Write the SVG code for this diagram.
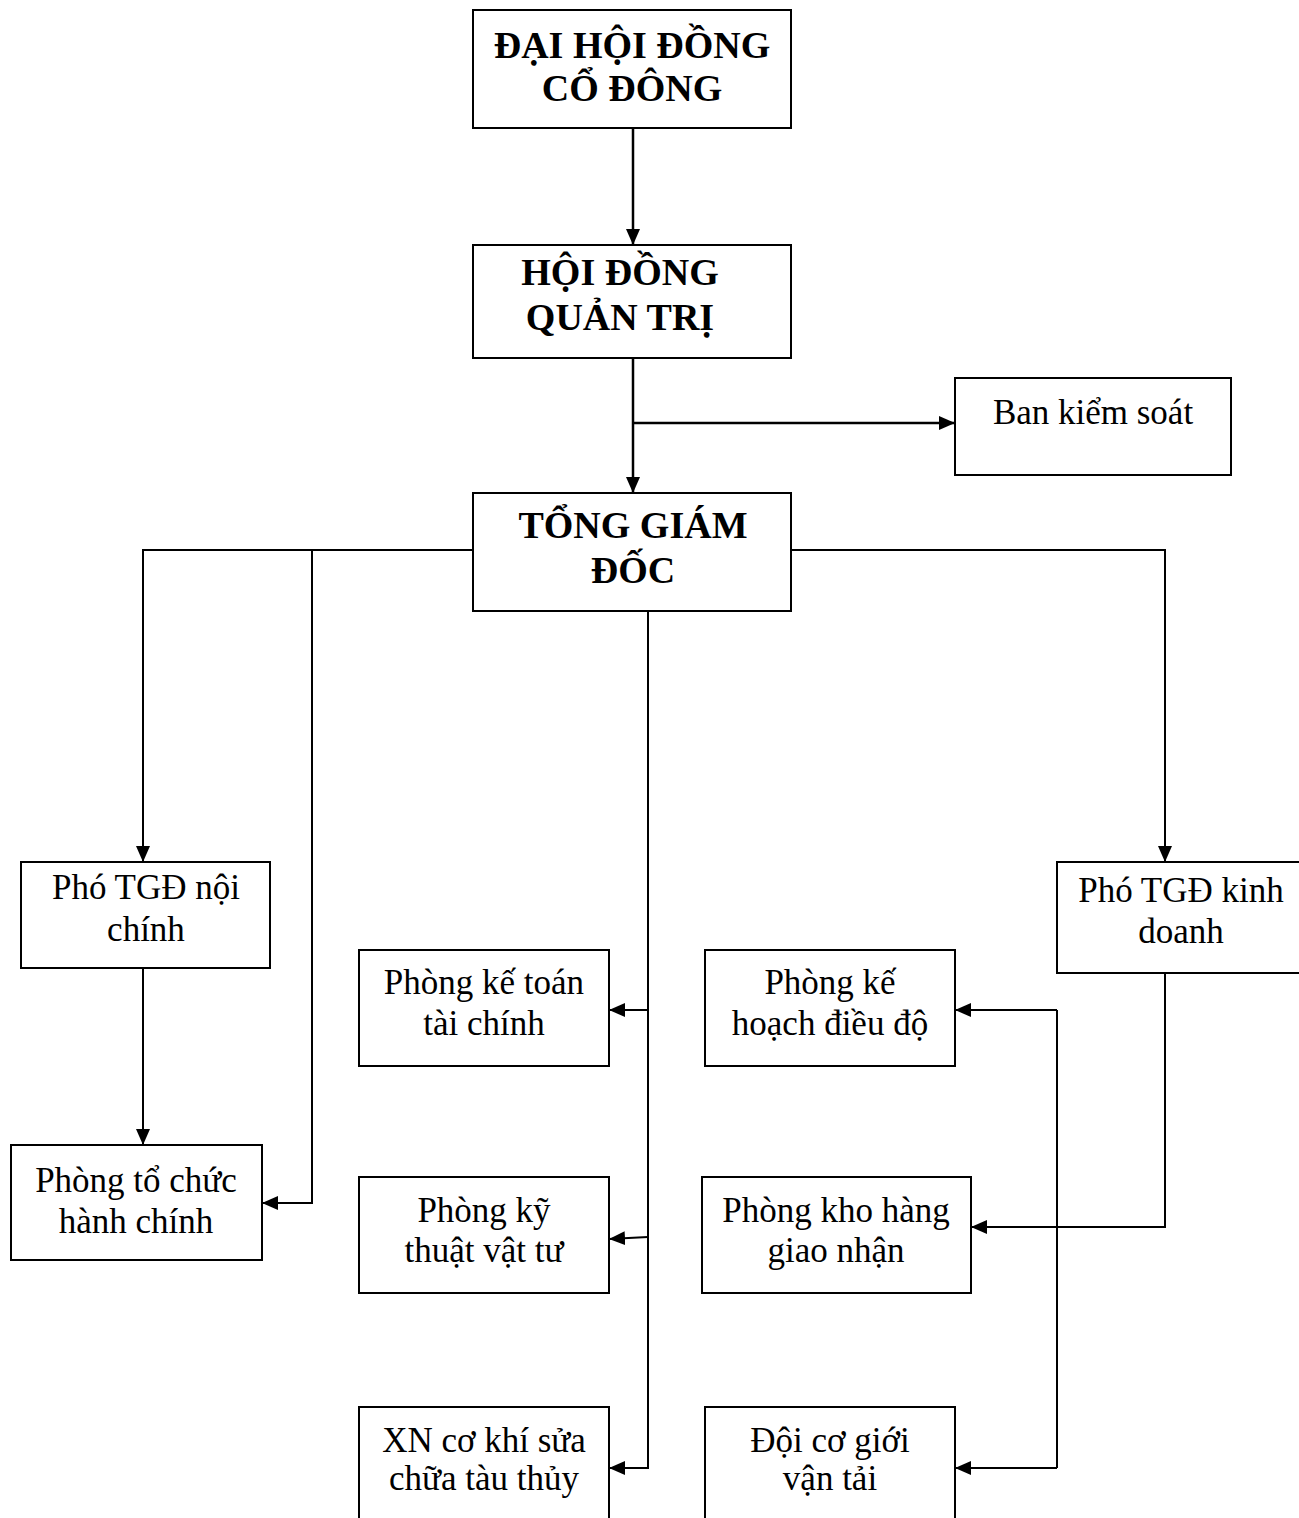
<svg xmlns="http://www.w3.org/2000/svg" width="1299" height="1518" viewBox="0 0 1299 1518">
<style>
.box{fill:#fff;stroke:#000;stroke-width:2}
.t{font-family:"Liberation Serif","Times New Roman",serif;font-size:35px;text-anchor:middle;fill:#000}
.b{font-family:"Liberation Serif","Times New Roman",serif;font-size:38px;font-weight:bold;text-anchor:middle;fill:#000}
.c{fill:none;stroke:#000;stroke-width:2.5}
.c2{fill:none;stroke:#000;stroke-width:2}
</style>
<defs>
<marker id="ah" viewBox="0 0 16 14" refX="16" refY="7" markerWidth="16" markerHeight="14" markerUnits="userSpaceOnUse" orient="auto">
<path d="M0,0 L16,7 L0,14 z" fill="#000"/>
</marker>
</defs>
<rect width="1299" height="1518" fill="#fff"/>
<g id="connectors">
<path class="c" d="M633,128 V245" marker-end="url(#ah)"/>
<path class="c" d="M633,358 V493" marker-end="url(#ah)"/>
<path class="c" d="M633,423 H955" marker-end="url(#ah)"/>
<path class="c2" d="M473,550 H143 V862" marker-end="url(#ah)"/>
<path class="c2" d="M312,550 V1203 H262" marker-end="url(#ah)"/>
<path class="c2" d="M791,550 H1165 V862" marker-end="url(#ah)"/>
<path class="c2" d="M648,611 V1468 H609" marker-end="url(#ah)"/>
<path class="c2" d="M648,1010 H609" marker-end="url(#ah)"/>
<path class="c2" d="M648,1237 L609,1239" marker-end="url(#ah)"/>
<path class="c2" d="M143,968 V1145" marker-end="url(#ah)"/>
<path class="c2" d="M1165,973 V1227 H971" marker-end="url(#ah)"/>
<path class="c2" d="M1057,1010 V1468"/>
<path class="c2" d="M1057,1010 H955" marker-end="url(#ah)"/>
<path class="c2" d="M1057,1468 H955" marker-end="url(#ah)"/>
</g>
<g id="n1"><rect class="box" x="473" y="10" width="318" height="118"/><text class="b" x="632" y="58">ĐẠI HỘI ĐỒNG</text><text class="b" x="632" y="101">CỔ ĐÔNG</text></g>
<g id="n2"><rect class="box" x="473" y="245" width="318" height="113"/><text class="b" x="620" y="285">HỘI ĐỒNG</text><text class="b" x="620" y="330">QUẢN TRỊ</text></g>
<g id="n3"><rect class="box" x="955" y="378" width="276" height="97"/><text class="t" x="1093" y="424">Ban kiểm soát</text></g>
<g id="n4"><rect class="box" x="473" y="493" width="318" height="118"/><text class="b" x="633" y="538">TỔNG GIÁM</text><text class="b" x="633" y="583">ĐỐC</text></g>
<g id="n5"><rect class="box" x="21" y="862" width="249" height="106"/><text class="t" x="146" y="899">Phó TGĐ nội</text><text class="t" x="146" y="941">chính</text></g>
<g id="n6"><rect class="box" x="11" y="1145" width="251" height="115"/><text class="t" x="136" y="1192">Phòng tổ chức</text><text class="t" x="136" y="1233">hành chính</text></g>
<g id="n7"><rect class="box" x="359" y="950" width="250" height="116"/><text class="t" x="484" y="994">Phòng kế toán</text><text class="t" x="484" y="1035">tài chính</text></g>
<g id="n8"><rect class="box" x="359" y="1177" width="250" height="116"/><text class="t" x="484" y="1222">Phòng kỹ</text><text class="t" x="484" y="1262">thuật vật tư</text></g>
<g id="n9"><rect class="box" x="359" y="1407" width="250" height="130"/><text class="t" x="484" y="1452">XN cơ khí sửa</text><text class="t" x="484" y="1490">chữa tàu thủy</text></g>
<g id="n10"><rect class="box" x="1057" y="862" width="260" height="111"/><text class="t" x="1181" y="902">Phó TGĐ kinh</text><text class="t" x="1181" y="943">doanh</text></g>
<g id="n11"><rect class="box" x="705" y="950" width="250" height="116"/><text class="t" x="830" y="994">Phòng kế</text><text class="t" x="830" y="1035">hoạch điều độ</text></g>
<g id="n12"><rect class="box" x="702" y="1177" width="269" height="116"/><text class="t" x="836" y="1222">Phòng kho hàng</text><text class="t" x="836" y="1262">giao nhận</text></g>
<g id="n13"><rect class="box" x="705" y="1407" width="250" height="130"/><text class="t" x="830" y="1452">Đội cơ giới</text><text class="t" x="830" y="1490">vận tải</text></g>
</svg>
